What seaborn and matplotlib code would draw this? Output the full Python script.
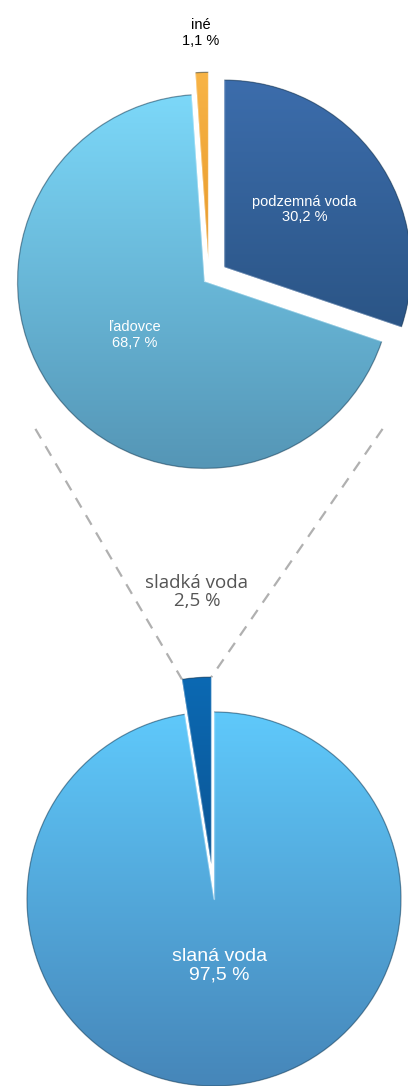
import numpy as np
import matplotlib
matplotlib.use("Agg")
import matplotlib.pyplot as plt
import seaborn as sns
from matplotlib.colors import LinearSegmentedColormap
from matplotlib.patches import Arc

# sladka voda rozdelena (horny kolac) a cela voda (dolny kolac)
fresh_labels = ["podzemná voda", "ľadovce", "iné"]
fresh_values = [30.2, 68.7, 1.1]
total_labels = ["slaná voda", "sladká voda"]
total_values = [97.5, 2.5]

sns.set_theme(style="white")
plt.rcParams["font.family"] = ["Liberation Sans", "DejaVu Sans"]

W, H = 408, 1086
fig = plt.figure(figsize=(W / 100, H / 100), dpi=100)
ax = fig.add_axes([0, 0, 1, 1])

# gradient colours (top, bottom)
fresh_colors = [("#3c6dac", "#2b5586"), ("#7cd8f9", "#5596b6"), ("#f8b446", "#e89a2b")]
total_colors = [("#5fc9fb", "#4686b9"), ("#0b69b3", "#0c5695")]

R = 187
top_center = (209, H - 278)
bot_center = (214, H - 899)

fresh_wedges, _ = ax.pie(fresh_values, center=top_center, radius=R, startangle=90,
                         counterclock=False, explode=[0.1 * R, 0.03 * R, 0.1 * R],
                         wedgeprops=dict(linewidth=0))
total_wedges, _ = ax.pie(total_values, center=bot_center, radius=R, startangle=90,
                         counterclock=False, explode=[0, 0.187 * R],
                         wedgeprops=dict(linewidth=0))


def shade(w, top, bottom):
    bb = w.get_path().get_extents()
    cmap = LinearSegmentedColormap.from_list("g", [bottom, top])
    grad = np.linspace(0, 1, 256).reshape(-1, 1)
    w.set_facecolor(top)
    im = ax.imshow(grad, cmap=cmap, origin="lower", aspect="auto",
                   extent=(bb.x0, bb.x1, bb.y0, bb.y1), zorder=2, interpolation="bilinear")
    im.set_clip_path(w)
    # dark rim on the arc, light bevel on the cut edges
    ax.add_patch(Arc(w.center, 2 * w.r, 2 * w.r, theta1=w.theta1, theta2=w.theta2,
                     edgecolor="#1f3a50", alpha=0.5, linewidth=0.9, zorder=3))
    cx, cy = w.center
    for th in (w.theta1, w.theta2):
        t = np.deg2rad(th)
        ax.plot([cx, cx + w.r * np.cos(t)], [cy, cy + w.r * np.sin(t)],
                color="white", alpha=0.35, lw=1.0, zorder=3)


for w, (c1, c2) in zip(fresh_wedges, fresh_colors):
    shade(w, c1, c2)
for w, (c1, c2) in zip(total_wedges, total_colors):
    shade(w, c1, c2)


def label_pos(w, dist):
    tm = np.deg2rad((w.theta1 + w.theta2) / 2)
    return w.center[0] + dist * w.r * np.cos(tm), w.center[1] + dist * w.r * np.sin(tm)


def fmt(lab, val):
    return f"{lab}\n{val:.1f} %".replace(".", ",")


fresh_dist = [0.53, 0.47, 1.21]
fresh_text = ["white", "white", "black"]
for w, lab, val, d, c in zip(fresh_wedges, fresh_labels, fresh_values, fresh_dist, fresh_text):
    x, y = label_pos(w, d)
    ax.text(x, y, fmt(lab, val), color=c, fontsize=10.5, ha="center", va="center",
            linespacing=1.15, zorder=5)

x, y = label_pos(total_wedges[0], 0.36)
ax.text(x, y, fmt(total_labels[0], total_values[0]), color="white", fontsize=14,
        ha="center", va="center", linespacing=1.1, zorder=5)

x, y = label_pos(total_wedges[1], 1.46)
ax.annotate(fmt(total_labels[1], total_values[1]), xy=(x, y), xytext=(7, 0),
            textcoords="offset pixels", color="#555555", fontsize=13.5,
            family=["Open Sans", "DejaVu Sans"], ha="center", va="center",
            linespacing=1.05, zorder=5)

# spojovacie ciary od horneho kolaca k vysunutemu dielu
sw = total_wedges[1]
for ang, th in [(-139, sw.theta2), (-41, sw.theta1)]:
    a = np.deg2rad(ang)
    x0 = top_center[0] + 1.23 * R * np.cos(a)
    y0 = top_center[1] + 1.23 * R * np.sin(a)
    t = np.deg2rad(th)
    x1 = sw.center[0] + sw.r * np.cos(t)
    y1 = sw.center[1] + sw.r * np.sin(t)
    ax.plot([x0, x1], [y0, y1], color="#b0b0b0", lw=1.6, linestyle=(0, (5, 4)),
            zorder=1, solid_capstyle="butt")

ax.set_xlim(0, W)
ax.set_ylim(0, H)
ax.set_aspect("equal")
ax.axis("off")
fig.savefig("out.png", dpi=100)
